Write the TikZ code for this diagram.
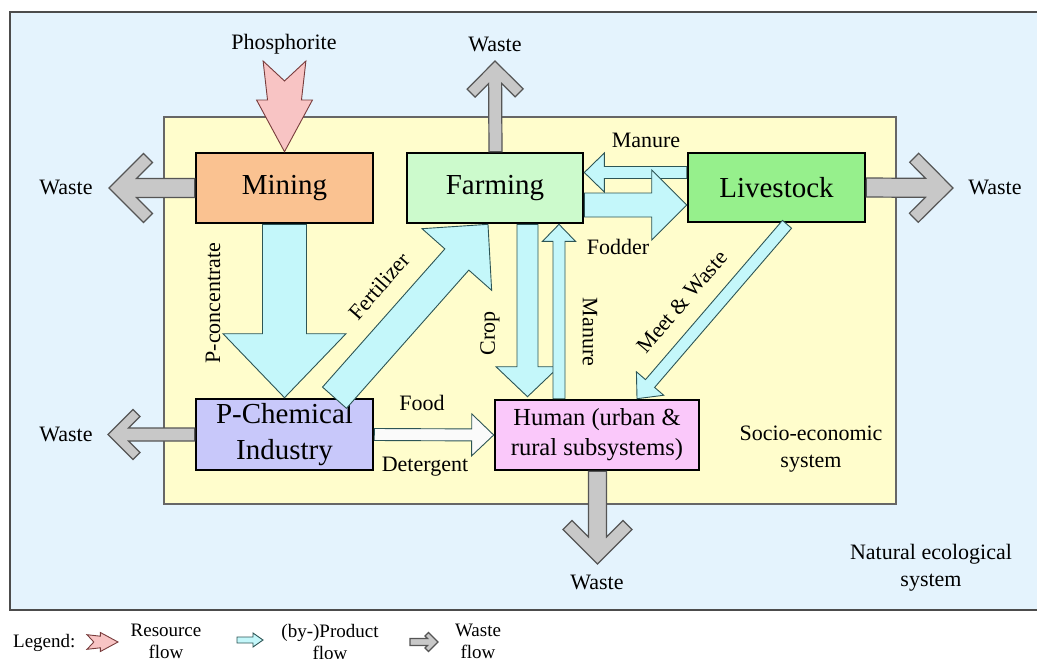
\documentclass[tikz,border=0pt]{standalone}
\usepackage{fontspec}
\setmainfont{Liberation Serif}
\usetikzlibrary{calc}

\definecolor{ecoblue}{RGB}{228,243,253}
\definecolor{socioyellow}{RGB}{255,253,204}
\definecolor{prodfill}{RGB}{196,247,250}
\definecolor{prodline}{RGB}{45,85,85}
\definecolor{wastefill}{RGB}{200,200,200}
\definecolor{wasteline}{RGB}{85,85,85}
\definecolor{resfill}{RGB}{248,196,196}
\definecolor{resline}{RGB}{120,60,60}
\definecolor{miningfill}{RGB}{250,194,145}
\definecolor{farmfill}{RGB}{204,250,204}
\definecolor{stockfill}{RGB}{150,240,140}
\definecolor{chemfill}{RGB}{200,200,250}
\definecolor{humanfill}{RGB}{250,200,250}
\definecolor{foodfill}{RGB}{250,250,250}

% angle and length of the axis between two points
\newcommand\flowframe[2]{%
  \path let \p1=(#1), \p2=(#2) in \pgfextra{%
    \pgfmathsetmacro\flowangtmp{atan2((\y2)-(\y1),(\x2)-(\x1))}%
    \pgfmathsetmacro\flowlentmp{veclen((\x2)-(\x1),(\y2)-(\y1))}%
    \xdef\flowang{\flowangtmp}\xdef\flowlen{\flowlentmp}};}

% block arrow: style, from, to, shaft width, head width, head length
\newcommand\solidflow[6]{%
  \flowframe{#2}{#3}%
  \begin{scope}[shift={(#2)},rotate=\flowang]
    \draw[#1] (0,{#4/2}) -- ({\flowlen-#6},{#4/2}) -- ({\flowlen-#6},{#5/2})
      -- (\flowlen,0) -- ({\flowlen-#6},{-#5/2}) -- ({\flowlen-#6},{-#4/2})
      -- (0,{-#4/2}) -- cycle;
  \end{scope}}

% chevron waste arrow: from, to, half shaft width, arm reach, arm cut
\newcommand\wasteflow[5]{%
  \flowframe{#1}{#2}%
  \begin{scope}[shift={(#1)},rotate=\flowang]
    \draw[waste] (0,{#3}) -- ({\flowlen-2*#5-#3},{#3}) -- ({\flowlen-#4-#5},{#4-#5})
      -- ({\flowlen-#4},{#4}) -- (\flowlen,0) -- ({\flowlen-#4},{-#4})
      -- ({\flowlen-#4-#5},{-(#4-#5)}) -- ({\flowlen-2*#5-#3},{-#3}) -- (0,{-#3}) -- cycle;
  \end{scope}}

% fletched resource arrow: from, to
\newcommand\resourceflow[2]{%
  \flowframe{#1}{#2}%
  \begin{scope}[shift={(#1)},rotate=\flowang]
    \draw[resource] ({0.22*\flowlen},0) -- (0,{0.236*\flowlen})
      -- ({0.43*\flowlen},{0.187*\flowlen}) -- ({0.43*\flowlen},{0.308*\flowlen})
      -- (\flowlen,0) -- ({0.43*\flowlen},{-0.308*\flowlen})
      -- ({0.43*\flowlen},{-0.187*\flowlen}) -- (0,{-0.236*\flowlen}) -- cycle;
  \end{scope}}

\tikzset{
  product/.style={fill=prodfill, draw=prodline, line width=0.9pt, line join=miter},
  foodflow/.style={fill=foodfill, draw=prodline, line width=0.9pt, line join=miter},
  waste/.style={fill=wastefill, draw=wasteline, line width=1.2pt, line join=miter},
  resource/.style={fill=resfill, draw=resline, line width=0.9pt, line join=miter},
  unit/.style={draw=black, line width=2.6pt, minimum width=177pt, minimum height=70pt,
    inner sep=0pt, align=center, font=\fontsize{29}{36}\selectfont},
  lbl/.style={inner sep=0pt, font=\fontsize{22}{27}\selectfont, align=center},
  legtext/.style={inner sep=0pt, font=\fontsize{19}{22}\selectfont, align=center},
}

\begin{document}
\begin{tikzpicture}[x=1pt, y=-1pt]
\useasboundingbox (0,0) rectangle (1037,659);

% system boundaries
\draw[fill=ecoblue, draw=black!70, line width=2pt] (9.5,12) rectangle (1050,610);
\draw[fill=socioyellow, draw=black!60, line width=1.5pt] (164,117) rectangle (896,504);

% process units
\node[unit, fill=miningfill] (mining) at (284.5,188) {Mining};
\node[unit, fill=farmfill, minimum width=176pt] (farming) at (495,188) {Farming};
\node[unit, fill=stockfill, minimum height=69pt] (livestock) at (776.5,187.5) {Livestock};
\node[unit, fill=chemfill, minimum height=71pt] (pchem) at (284.5,434.5) {P-Chemical\\Industry};
\node[unit, fill=humanfill, minimum width=204pt, font=\fontsize{24.5}{30}\selectfont]
  (human) at (597,435) {Human (urban \&\\rural subsystems)};

% free ends of the flows
\coordinate (phos) at (284.5,61);
\coordinate (wmining) at (109,188);
\coordinate (wfarming) at (495,61);
\coordinate (wstock) at (953,188);
\coordinate (wchem) at (108,434.5);
\coordinate (whuman) at (597.5,564);

% resource input
\resourceflow{phos}{mining.north}

% waste outputs
\wasteflow{mining.west}{wmining}{9.5}{34.5}{9}
\wasteflow{$(farming.north)+(0.5,0)$}{wfarming}{6.5}{28}{8}
\wasteflow{livestock.east}{wstock}{9.5}{34.5}{9}
\wasteflow{pchem.west}{wchem}{6.5}{25}{7}
\wasteflow{$(human.south)+(0.5,0)$}{whuman}{9}{34.5}{9}

% product and by-product flows
\solidflow{product}{mining.south}{pchem.north}{44}{123}{64}
\solidflow{product}{$(pchem.north)+(50,0)$}{$(farming.south)+(-7,0)$}{32}{93}{47}
\solidflow{product}{$(farming.south)+(32.5,0)$}{$(human.north)+(-69.5,-2)$}{21}{63}{30}
\solidflow{product}{$(human.north)+(-38,0)$}{$(farming.south)+(64,0)$}{12}{33}{17}
\solidflow{product}{$(livestock.west)+(0,-15)$}{$(farming.east)+(0,-15.5)$}{12}{39}{20}
\solidflow{product}{$(farming.east)+(0,17)$}{$(livestock.west)+(0,17.5)$}{24}{70}{35}
\solidflow{product}{$(livestock.south)+(10.5,1)$}{$(human.north)+(40,0)$}{12}{36}{20}
\solidflow{foodflow}{pchem.east}{human.west}{12}{42}{22}

% flow labels
\node[lbl] at (284,44) {Phosphorite};
\node[lbl] at (66,187) {Waste};
\node[lbl] at (495,44) {Waste};
\node[lbl] at (995,187) {Waste};
\node[lbl] at (66,434) {Waste};
\node[lbl] at (597,582) {Waste};
\node[lbl, rotate=90] at (213,303) {P-concentrate};
\node[lbl, rotate=48.7] at (379,286) {Fertilizer};
\node[lbl, rotate=90] at (490,333) {Crop};
\node[lbl, rotate=-90] at (590,332) {Manure};
\node[lbl, rotate=49.6] at (682,302) {Meet \& Waste};
\node[lbl] at (646,140) {Manure};
\node[lbl] at (618,247) {Fodder};
\node[lbl] at (422,403) {Food};
\node[lbl] at (425,467) {Detergent};

% system names
\node[lbl] at (811,449) {Socio-economic\\system};
\node[lbl] at (931,568) {Natural ecological\\system};

% legend
\node[legtext, anchor=west] at (13,643) {Legend:};
\coordinate (lresa) at (87,642);
\coordinate (lresb) at (118,642);
\resourceflow{lresa}{lresb}
\node[legtext, anchor=north] at (166,624) {Resource\\flow};
\coordinate (lproa) at (237,640);
\coordinate (lprob) at (263,640);
\solidflow{product}{lproa}{lprob}{6}{14}{10}
\node[legtext, anchor=north] at (330,624) {(by-)Product\\flow};
\coordinate (lwasa) at (410,642);
\coordinate (lwasb) at (438,642);
\wasteflow{lwasa}{lwasb}{3.5}{9.5}{3.5}
\node[legtext, anchor=north] at (478,624) {Waste\\flow};
\end{tikzpicture}
\end{document}
